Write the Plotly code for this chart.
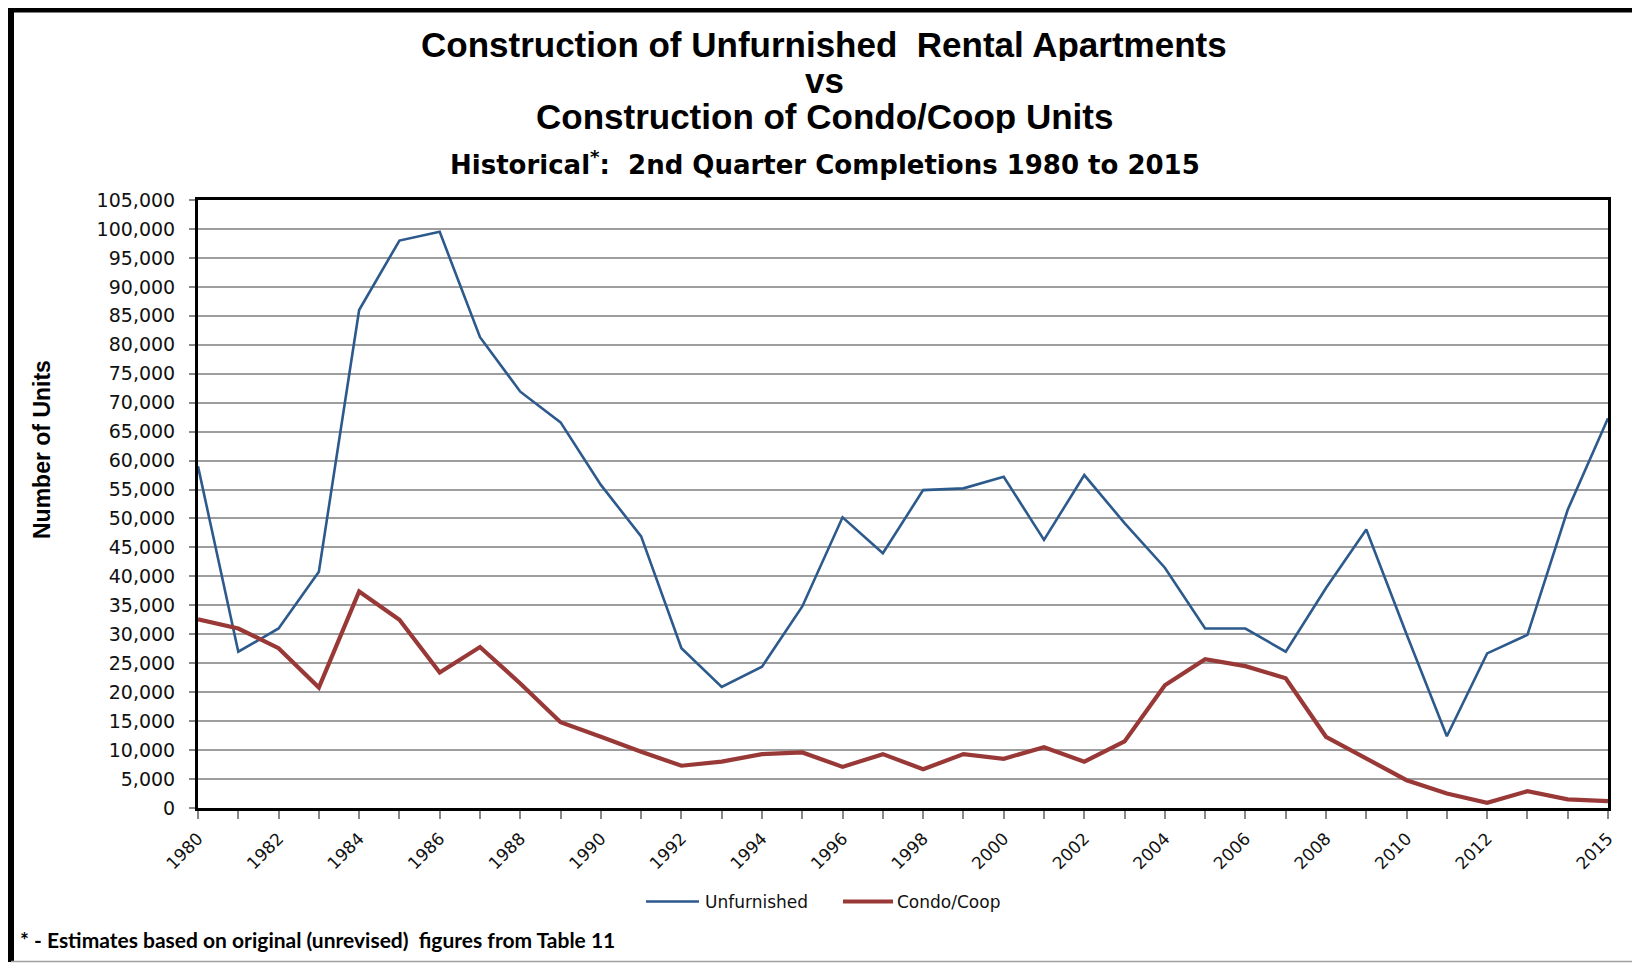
import plotly.graph_objects as go

years = list(range(1980, 2016))
unfurnished = [59000, 27000, 31000, 40800, 86000, 98000, 99500, 81300, 71900, 66600,
               55800, 46900, 27600, 20900, 24400, 34800, 50200, 44000, 54900, 55200,
               57200, 46300, 57500, 49200, 41500, 31000, 31000, 27000, 38000, 48100,
               30000, 12400, 26700, 29900, 51500, 67300]
condo_coop = [32600, 31000, 27600, 20800, 37400, 32500, 23400, 27800, 21500, 14800,
              12300, 9700, 7300, 8000, 9300, 9600, 7100, 9300, 6700, 9300,
              8500, 10500, 8000, 11500, 21200, 25700, 24500, 22400, 12300, 8600,
              4800, 2500, 900, 2900, 1500, 1200]
x_labels = [1980, 1982, 1984, 1986, 1988, 1990, 1992, 1994, 1996, 1998,
            2000, 2002, 2004, 2006, 2008, 2010, 2012, 2015]
y_ticks = list(range(0, 105001, 5000))
series_names = ["Unfurnished", "Condo/Coop"]
series_colors = ["#2D5A8C", "#993937"]
series_widths = [2.6, 4.2]

# page has an 8px body margin: figure coords = page coords - 8
OFF = 8
W, H = 1640 - OFF, 964 - OFF
L, R, T, B = 198 - OFF, 1608 - OFF, 200 - OFF, 808 - OFF
PW, PH = R - L, B - T

def px(x):  # page px -> paper
    return (x - OFF - L) / PW

def py(y):
    return (B - (y - OFF)) / PH

fig = go.Figure()
for name, vals, col, wd in zip(series_names, [unfurnished, condo_coop], series_colors, series_widths):
    fig.add_trace(go.Scatter(x=years, y=vals, mode="lines", name=name,
                             line=dict(color=col, width=wd)))

tick_font = dict(family="DejaVu Sans", size=17, color="#111111")

fig.update_layout(
    width=W, height=H,
    margin=dict(l=L, r=W - R, t=T, b=H - B, autoexpand=False),
    paper_bgcolor="white", plot_bgcolor="white",
    showlegend=False,
    xaxis=dict(range=[1980, 2015], tickmode="array", tickvals=x_labels,
               ticktext=[str(v) for v in x_labels],
               tickangle=-45, ticks="outside", ticklen=8, tickwidth=1.5, tickcolor="#888888",
               minor=dict(ticks="outside", ticklen=8, tickwidth=1.5, tickcolor="#888888",
                          tick0=1980, dtick=1, showgrid=False),
               ticklabelstandoff=3,
               showgrid=False, zeroline=False, showline=True, linecolor="black", linewidth=3,
               mirror=True, tickfont=tick_font),
    yaxis=dict(range=[0, 105000], tickmode="array", tickvals=y_ticks,
               ticktext=[f"{v:,}" for v in y_ticks],
               ticks="outside", ticklen=6, tickwidth=1.5, tickcolor="#888888",
               ticklabelstandoff=10,
               showgrid=True, gridcolor="#9E9E9E", gridwidth=1.6, zeroline=False,
               showline=True, linecolor="black", linewidth=3, mirror=True,
               tickfont=dict(family="DejaVu Sans", size=19, color="#111111")),
)

title_font = dict(family="Liberation Sans", size=35, color="black")
annos = [
    dict(text="<b>Construction of Unfurnished  Rental Apartments</b>", x=px(824), y=py(44),
         font=title_font, height=34),
    dict(text="<b>vs</b>", x=px(824), y=py(80), font=title_font, height=34),
    dict(text="<b>Construction of Condo/Coop Units</b>", x=px(824), y=py(116),
         font=title_font, height=34),
    dict(text="<b>Historical<sup>*</sup>:  2nd Quarter Completions 1980 to 2015</b>", x=px(825), y=py(163),
         font=dict(family="DejaVu Sans", size=26, color="black")),
]
for a in annos:
    fig.add_annotation(xref="paper", yref="paper", xanchor="center", yanchor="middle",
                       showarrow=False, **a)

fig.add_annotation(xref="paper", yref="paper", x=px(42), y=py(450), text="<b>Number of Units</b>",
                   textangle=-90, showarrow=False, xanchor="center", yanchor="middle",
                   font=dict(family="Liberation Sans", size=23, color="black"))
fig.add_annotation(xref="paper", yref="paper", x=px(18), y=py(939), xanchor="left", yanchor="middle",
                   text="<b>* - Estimates based on original (unrevised)  figures from Table 11</b>",
                   showarrow=False, font=dict(family="Lato", size=21, color="black"))

# legend (drawn manually to match the original's long line samples)
leg_y = 901.5
leg_items = [(646, 699, 703), (843, 893, 895)]
for (x0, x1, xt), name, col, wd in zip(leg_items, series_names, series_colors, series_widths):
    fig.add_shape(type="line", xref="paper", yref="paper", x0=px(x0), x1=px(x1),
                  y0=py(leg_y), y1=py(leg_y), line=dict(color=col, width=wd))
    fig.add_annotation(xref="paper", yref="paper", x=px(xt), y=py(leg_y), text=name,
                       xanchor="left", yanchor="middle", showarrow=False,
                       font=dict(family="DejaVu Sans", size=17, color="#111111"))

# outer frame
fig.add_shape(type="line", xref="paper", yref="paper", x0=px(11), x1=px(11), y0=py(8), y1=py(962),
              line=dict(color="black", width=6))
fig.add_shape(type="line", xref="paper", yref="paper", x0=px(8), x1=px(1638), y0=py(10), y1=py(10),
              line=dict(color="black", width=5))
fig.add_shape(type="line", xref="paper", yref="paper", x0=px(1637), x1=px(1637), y0=py(10), y1=py(962),
              line=dict(color="#A0A0A0", width=1.5))
fig.add_shape(type="line", xref="paper", yref="paper", x0=px(11), x1=px(1637), y0=py(961.5), y1=py(961.5),
              line=dict(color="#A0A0A0", width=1.5))

fig.write_html("out.html")
